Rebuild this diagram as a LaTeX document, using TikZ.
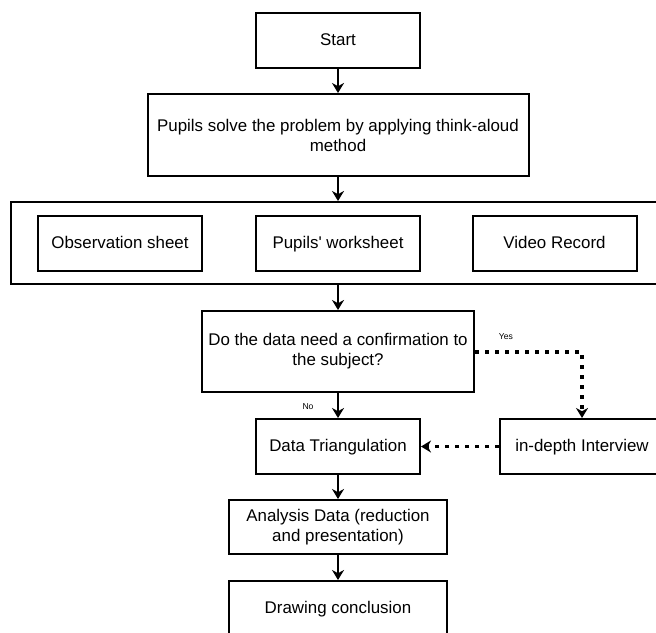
\documentclass[tikz,border=0pt]{standalone}
\usepackage{fontspec}
\setmainfont{Liberation Sans}
\usetikzlibrary{arrows.meta}
\begin{document}
\begin{tikzpicture}[x=0.5pt,y=-0.5pt,
		box/.style={draw,line width=1pt,minimum width=82pt,minimum height=27.5pt,inner sep=0pt,align=center,font=\fontsize{8.45}{10}\selectfont},
		one/.style={box,text height=6.2pt,text depth=1.7pt},
		line/.style={line width=1pt,-{Stealth[length=5pt,width=6pt,inset=1.6pt]}},
		dotline/.style={line,line width=1.6pt,dash pattern=on 2.2pt off 2.8pt},
		tiny/.style={font=\fontsize{4.3}{5}\selectfont,inner sep=0pt}]
				\useasboundingbox (0,0) rectangle (656,632);
				\node[one] (start) at (338,40.5) {Start};
				\node[box,minimum width=190.5pt,minimum height=41pt] (solve) at (338,135) {Pupils solve the problem by applying think-aloud\\method};
				\node[box,minimum width=327pt,minimum height=41pt] (data) at (338,243) {};
				\node[one] (obs) at (120,243.5) {Observation sheet};
				\node[one] (sheet) at (338,243.5) {Pupils\textquotesingle\ worksheet};
				\node[one] (video) at (554.5,243.5) {Video Record};
				\node[box,minimum width=136pt,minimum height=40.5pt] (ask) at (338,351.5) {Do the data need a confirmation to\\the subject?};
				\node[one] (tri) at (338,446.5) {Data Triangulation};
				\node[one] (interview) at (582,446.5) {in-depth Interview};
				\node[box,minimum width=109pt,minimum height=27pt] (analysis) at (338,527) {Analysis Data (reduction\\and presentation)};
				\node[one,minimum width=109pt] (end) at (338,608.5) {Drawing conclusion};
				\coordinate (turn) at (582,352);
				\draw[line] (start) -- (solve);
				\draw[line] (solve) -- (data);
				\draw[line] (data) -- (ask);
				\draw[line] (ask) -- (tri);
				\node[tiny] (no) at (308,407) {No};
				\draw[line] (tri) -- (analysis);
				\draw[line] (analysis) -- (end);
				\draw[dotline] (ask.east |- turn) -- (turn) -- (interview);
				\node[tiny] (yes) at (506,337) {Yes};
				\draw[dotline] (interview) -- (tri);
			\end{tikzpicture}
\end{document}
